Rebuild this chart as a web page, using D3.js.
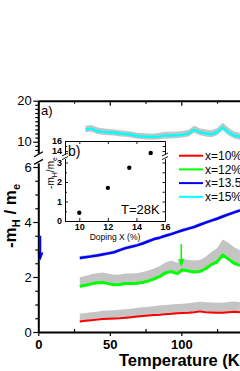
<!DOCTYPE html>
<html>
<head>
<meta charset="utf-8">
<script src="https://cdn.jsdelivr.net/npm/d3@7"></script>
<style>
  body { margin: 0; background: #fff; }
  svg { display: block; font-family: "Liberation Sans", Arial, sans-serif; }
</style>
</head>
<body>
<svg id="chart" width="240" height="371"></svg>
<script>
// --- data ---
const temps = [29,33,37,41,45,49,53,57,61,65,69,73,77,81,85,89,93,97,101,105,109,113,117,121,125,129,133,137,141]

const mRed   = [0.38,0.41,0.43,0.45,0.47,0.48,0.49,0.50,0.52,0.54,0.56,0.58,0.60,0.62,0.63,0.65,0.66,0.68,0.69,0.70,0.72,0.75,0.72,0.71,0.70,0.70,0.72,0.74,0.72]
const mGreen = [1.66,1.70,1.75,1.79,1.80,1.76,1.72,1.73,1.76,1.76,1.77,1.80,1.86,1.93,2.02,2.15,2.20,2.12,2.26,2.22,2.18,2.20,2.30,2.45,2.55,2.80,2.65,2.50,2.42]
const mBlue  = [2.69,2.72,2.75,2.78,2.82,2.86,2.90,2.98,3.05,3.10,3.15,3.22,3.30,3.38,3.43,3.50,3.56,3.63,3.70,3.76,3.82,3.90,3.98,4.05,4.12,4.20,4.28,4.35,4.42]
const mCyan  = [null,13.0,13.2,12.6,12.4,12.3,12.2,12.0,11.9,11.7,11.4,11.3,11.2,11.2,11.3,11.5,11.5,11.6,11.7,12.0,12.9,12.3,12.0,11.8,12.3,13.5,12.3,11.5,11.2]

// grey error band, extent above each curve
const upRed   = [0.28,0.28,0.29,0.29,0.30,0.30,0.30,0.31,0.31,0.31,0.32,0.32,0.32,0.33,0.33,0.33,0.34,0.34,0.34,0.35,0.35,0.35,0.36,0.36,0.36,0.36,0.37,0.37,0.37]
const upGreen = [0.33,0.34,0.35,0.35,0.36,0.36,0.36,0.36,0.37,0.37,0.37,0.38,0.38,0.38,0.38,0.38,0.40,0.40,0.40,0.40,0.42,0.42,0.44,0.46,0.50,0.56,0.60,0.58,0.55]
const upBlue  = [0.07,0.07,0.07,0.07,0.07,0.07,0.07,0.07,0.07,0.07,0.07,0.07,0.07,0.07,0.07,0.07,0.07,0.07,0.07,0.07,0.07,0.07,0.07,0.07,0.07,0.07,0.07,0.07,0.07]
const upCyan  = [0,0.9,0.9,0.9,0.9,0.8,0.8,0.8,0.8,0.8,0.8,0.8,0.8,0.8,0.9,0.9,0.9,0.9,0.9,0.9,1.0,1.0,1.0,1.0,1.0,1.1,1.1,1.0,1.0]

const seriesNames  = ["x=10%", "x=12%", "x=13.5%", "x=15%"]
const seriesColors = ["#ff0000", "#00ff00", "#0000ff", "#00ffff"]
const bandDown     = [0.03, 0.04, 0.06, 0.7]

// arrows marking features
const arrowT    = [1.5, 100]
const arrowFrom = [3.5, 3.2]
const arrowTo   = [2.6, 2.36]
const arrowColor = ["#0000ff", "#00ff00"]

// inset b)
const doping = [10, 12, 13.5, 15]
const massAt28K = [0.42, 1.70, 2.73, 13.6]

const xTicks = [0, 50, 100]
const xMinor = [25, 75, 125]
const fmt = d3.format("d")

// --- scales ---
const svg = d3.select("#chart")
svg.append("rect").attr("width", 240).attr("height", 371).attr("fill", "#fff")

const x = d3.scaleLinear().domain([0, 150]).range([38.3, 252.8])
const yUp = d3.scaleLinear().domain([7.2, 20]).range([153.2, 100.7])
const yLo = d3.scaleLinear().domain([0, 6.15]).range([332, 162.9])
const yOf = v => v >= 7 ? yUp(v) : yLo(v)

// --- curves with bands ---
const allVals = [mRed, mGreen, mBlue, mCyan]
const allUp = [upRed, upGreen, upBlue, upCyan]
const widths = [2, 3, 2.5, 2.5]

const order = [3, 2, 1, 0]
order.forEach(i => {
    const rows = temps.map((t, k) => ({t: t, v: allVals[i][k], up: allUp[i][k], dn: bandDown[i]}))
    const area = d3.area()
        .defined(d => d.v != null)
        .x(d => x(d.t))
        .y0(d => yOf(d.v - d.dn))
        .y1(d => yOf(d.v + d.up))
    svg.append("path").datum(rows)
        .attr("d", area)
        .attr("fill", "#c4c4c4")
    const line = d3.line()
        .defined(d => d.v != null)
        .x(d => x(d.t))
        .y(d => yOf(d.v))
    svg.append("path").datum(rows)
        .attr("d", line)
        .attr("fill", "none")
        .attr("stroke", seriesColors[i])
        .attr("stroke-width", widths[i])
        .attr("stroke-linejoin", "round")
})

// arrows
arrowT.forEach((t, i) => {
    const x0 = x(t), y0 = yOf(arrowFrom[i]), y1 = yOf(arrowTo[i])
    svg.append("line")
        .attr("x1", x0).attr("x2", x0)
        .attr("y1", y0).attr("y2", y1 - 6)
        .attr("stroke", arrowColor[i]).attr("stroke-width", 1.6)
    svg.append("path")
        .attr("d", `M${x0 - 3},${y1 - 8}L${x0 + 3},${y1 - 8}L${x0},${y1}Z`)
        .attr("fill", arrowColor[i])
})

// --- main axes ---
function styleAxis (g, w) {
    g.select(".domain").attr("stroke-width", w)
    g.selectAll(".tick line").attr("stroke-width", 1.2)
    g.selectAll("text").attr("fill", "#000")
}

const gb = svg.append("g").attr("transform", "translate(0,332)")
    .call(d3.axisBottom(x).tickValues(xTicks).tickSize(4).tickSizeOuter(0).tickPadding(4).tickFormat(fmt))
gb.selectAll("text").attr("font-size", 13).attr("font-weight", "bold").attr("font-family", "Liberation Sans, Arial, sans-serif")
styleAxis(gb, 2)
const gbm = svg.append("g").attr("transform", "translate(0,332)")
    .call(d3.axisTop(x).tickValues(xMinor).tickSize(3).tickSizeOuter(0).tickFormat(""))
gbm.select(".domain").remove()
styleAxis(gbm, 2)

const gt = svg.append("g").attr("transform", "translate(0,100.7)")
    .call(d3.axisBottom(x).tickValues(xTicks).tickSize(5).tickSizeOuter(0).tickFormat(""))
styleAxis(gt, 2)
const gtm = svg.append("g").attr("transform", "translate(0,100.7)")
    .call(d3.axisBottom(x).tickValues(xMinor).tickSize(3).tickSizeOuter(0).tickFormat(""))
gtm.select(".domain").remove()
styleAxis(gtm, 2)

function leftAxis (scale, major, minor) {
    const g = svg.append("g").attr("transform", "translate(38.3,0)")
        .call(d3.axisLeft(scale).tickValues(major).tickSize(5).tickSizeOuter(0).tickPadding(1.5).tickFormat(fmt))
    g.selectAll("text").attr("font-size", 13).attr("font-family", "Liberation Sans, Arial, sans-serif")
    styleAxis(g, 2)
    const gm = svg.append("g").attr("transform", "translate(38.3,0)")
        .call(d3.axisLeft(scale).tickValues(minor).tickSize(3).tickSizeOuter(0).tickFormat(""))
    gm.select(".domain").remove()
    styleAxis(gm, 2)
}
leftAxis(yLo, [0, 2, 4, 6], [0.5, 1, 1.5, 2.5, 3, 3.5, 4.5, 5, 5.5])
leftAxis(yUp, [10, 20], [8, 9, 11, 12, 13, 14, 15, 16, 17, 18, 19])

// axis break marks
;[yUp(7.2) + 1, yLo(6.15) - 1].forEach(yb => {
    svg.append("line")
        .attr("x1", 34).attr("x2", 43)
        .attr("y1", yb + 2.5).attr("y2", yb - 2.5)
        .attr("stroke", "#000").attr("stroke-width", 1.3)
})

// rotated label centred on (cx, cy) reading upward
function rotatedLabel (cx, cy, size, sub, bold, parts) {
    const t = svg.append("text")
        .attr("font-size", size)
        .attr("font-weight", bold ? "bold" : "normal")
        .attr("text-anchor", "middle")
        .attr("transform", `translate(${cx},${cy}) rotate(-90)`)
    let shifted = false
    parts.forEach(([txt, isSub]) => {
        const dy = isSub && !shifted ? size * 0.25 : (!isSub && shifted ? -size * 0.25 : 0)
        shifted = isSub
        t.append("tspan")
            .attr("font-size", isSub ? sub : size)
            .attr("dy", dy)
            .text(txt)
    })
}

rotatedLabel(15.5, 216, 17, 11, true, [["-m", false], ["H", true], [" / m", false], ["e", true]])

svg.append("text").attr("x", 119).attr("y", 366)
    .attr("font-size", 16.5).attr("font-weight", "bold")
    .text("Temperature (K)")

svg.append("text").attr("x", 41).attr("y", 115)
    .attr("font-size", 13).text("a)")

// legend
seriesNames.forEach((name, i) => {
    const ly = 155.7 + i * 13.7
    svg.append("line")
        .attr("x1", 179).attr("x2", 203).attr("y1", ly).attr("y2", ly)
        .attr("stroke", seriesColors[i]).attr("stroke-width", 2)
    svg.append("text").attr("x", 205).attr("y", ly).attr("dy", "0.36em")
        .attr("font-size", 12).text(name)
})

// --- inset b) ---
const xi = d3.scaleLinear().domain([9, 16]).range([65, 165])
const yiLo = d3.scaleLinear().domain([0, 3.2]).range([221, 158.6])
const yiUp = d3.scaleLinear().domain([13.4, 16]).range([154, 141])
const yiOf = v => v >= 10 ? yiUp(v) : yiLo(v)

svg.append("rect").attr("x", 65).attr("y", 141).attr("width", 100).attr("height", 80).attr("fill", "#fff")

function insetStyle (g) {
    g.select(".domain").attr("stroke-width", 1)
    g.selectAll(".tick line").attr("stroke-width", 0.9)
    g.selectAll("text").attr("fill", "#000").attr("font-size", 9).attr("font-weight", "bold")
        .attr("font-family", "Liberation Sans, Arial, sans-serif")
}

const ib = svg.append("g").attr("transform", "translate(0,221)")
    .call(d3.axisBottom(xi).tickValues([10, 12, 14, 16]).tickSize(-3).tickSizeOuter(0).tickPadding(3).tickFormat(fmt))
insetStyle(ib)
const it = svg.append("g").attr("transform", "translate(0,141)")
    .call(d3.axisTop(xi).tickValues([10, 12, 14]).tickSize(-3).tickSizeOuter(0).tickFormat(""))
insetStyle(it)

;[[yiLo, [0, 1, 2, 3], [0.5, 1.5, 2.5]], [yiUp, [14, 16], [15]]].forEach(([s, major, minor]) => {
    const gl = svg.append("g").attr("transform", "translate(65,0)")
        .call(d3.axisLeft(s).tickValues(major).tickSize(-3).tickSizeOuter(0).tickPadding(3).tickFormat(fmt))
    insetStyle(gl)
    const glm = svg.append("g").attr("transform", "translate(65,0)")
        .call(d3.axisLeft(s).tickValues(minor).tickSize(-2).tickSizeOuter(0).tickFormat(""))
    glm.select(".domain").remove()
    insetStyle(glm)
    const gr = svg.append("g").attr("transform", "translate(165,0)")
        .call(d3.axisRight(s).tickValues(major.concat(minor)).tickSize(-2.5).tickSizeOuter(0).tickFormat(""))
    insetStyle(gr)
})

;[65, 165].forEach(bx => {
    ;[yiUp(13.4) + 0.5, yiLo(3.2) - 0.5].forEach(yb => {
        svg.append("line")
            .attr("x1", bx - 3).attr("x2", bx + 3)
            .attr("y1", yb + 1.5).attr("y2", yb - 1.5)
            .attr("stroke", "#000").attr("stroke-width", 0.9)
    })
})

svg.append("g").selectAll("circle")
    .data(doping.map((d, i) => ({d: d, m: massAt28K[i]})))
    .join("circle")
    .attr("cx", d => xi(d.d))
    .attr("cy", d => yiOf(d.m))
    .attr("r", 2.2)
    .attr("fill", "#000")

rotatedLabel(54, 173, 10, 7, false, [["-m", false], ["H", true], ["/m", false], ["e", true]])

svg.append("text").attr("x", 115).attr("y", 240)
    .attr("text-anchor", "middle").attr("font-size", 8.5)
    .text("Doping X (%)")

svg.append("text").attr("x", 68).attr("y", 156)
    .attr("font-size", 14).text("b)")

svg.append("text").attr("x", 121).attr("y", 214)
    .attr("font-size", 13).text("T=28K")
</script>
</body>
</html>
